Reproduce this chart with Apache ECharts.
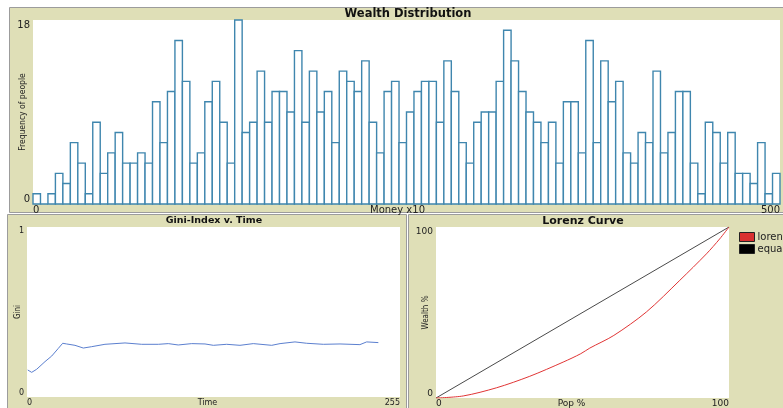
<!DOCTYPE html>
<html>
<head>
<meta charset="utf-8">
<script src="https://cdn.jsdelivr.net/npm/echarts@6/dist/echarts.min.js"></script>
<style>
html,body{margin:0;padding:0;background:#fff;}
#c{width:783px;height:408px;}
</style>
</head>
<body>
<div id="c"></div>
<script>
// ---- Wealth Distribution histogram (bin width 5, range 0..500) ----
const binWidth = 5;
const histCounts = [1,0,1,3,2,6,4,1,8,3, 5,7,4,4,5,4,10,6,11,16, 12,4,5,10,12,8,4,18,7,8,
  13,8,11,11,9,15,8,13,9,11, 6,13,12,11,14,8,5,11,12,6, 9,11,12,12,8,14,11,6,4,8,
  9,9,12,17,14,11,9,8,6,8, 4,10,10,5,16,6,14,10,12,5, 4,7,6,13,5,7,11,11,4,1,
  8,7,4,7,3,3,2,6,1,3];
const histXTicks = [0, 500];
const histYTicks = [0, 18];

// ---- Gini index vs time ----
const giniTime  = [0.5,3.2,6.6,12.3,16.9,21.4,24.4,25.3,27.1,32.8,38.5,44.2,53.3,67,78.4,89.8,96.6,103.4,112.6,121.7,127.4,136.5,145.6,154.7,167.3,173,183.2,191.2,202.6,214,227.6,232.2,240.2];
const giniValue = [0.159,0.145,0.163,0.208,0.241,0.286,0.316,0.325,0.312,0.304,0.288,0.296,0.310,0.318,0.310,0.310,0.314,0.306,0.314,0.312,0.304,0.310,0.304,0.314,0.304,0.314,0.324,0.316,0.310,0.312,0.308,0.324,0.320];
const giniXTicks = [0, 255];
const giniYTicks = [0, 1];

// ---- Lorenz curve ----
const lorenzPop    = [0,9.3,20.7,32,43.4,49.4,52.5,60.7,71.8,83.2,92.3,96.8,100];
const lorenzWealth = [0,1.2,6.0,12.7,21,25.9,29.2,36.6,50.3,68.8,84.3,93,100];
const equalPop    = [0,100];
const equalWealth = [0,100];
const lorenzTicks = [0, 100];

const beige = '#dfdfb7';
const frameStroke = '#9c9c9c';
const labelFont = 'DejaVu Sans';
const narrowFont = "'Liberation Sans Narrow', 'DejaVu Sans Condensed', 'DejaVu Sans'";

const chart = echarts.init(document.getElementById('c'), null, {renderer:'canvas'});

function frame(x,y,w,h){
  return {type:'rect', z:-100, shape:{x:x,y:y,width:w,height:h},
    style:{fill:beige, stroke:frameStroke, lineWidth:1}};
}
function white(x,y,w,h){
  return {type:'rect', z:-99, shape:{x:x,y:y,width:w,height:h}, style:{fill:'#fff'}};
}

function xAxisCfg(gi, ticks, name, nameGapRight, fs, margin){
  return {
    type:'value', gridIndex:gi, min:ticks[0], max:ticks[1], interval:ticks[1]-ticks[0],
    name:name, nameLocation:'middle', nameGap:margin, nameMoveOverlap:false,
    nameTextStyle:{fontFamily:labelFont, fontSize:fs, color:'#222', padding:[0,nameGapRight,0,0]},
    axisLine:{show:false}, axisTick:{show:false}, splitLine:{show:false},
    axisLabel:{fontFamily:labelFont, fontSize:fs, color:'#222', margin:margin,
      alignMinLabel:'left', alignMaxLabel:'right'}
  };
}
function yAxisCfg(gi, ticks, name, nameGap, fs, nfs, margin){
  return {
    type:'value', gridIndex:gi, min:ticks[0], max:ticks[1], interval:ticks[1]-ticks[0],
    name:name, nameLocation:'middle', nameGap:nameGap, nameMoveOverlap:false,
    nameTextStyle:{fontFamily:narrowFont, fontSize:nfs, color:'#222'},
    axisLine:{show:false}, axisTick:{show:false}, splitLine:{show:false},
    axisLabel:{fontFamily:labelFont, fontSize:fs, color:'#222', margin:margin,
      verticalAlignMinLabel:'bottom', verticalAlignMaxLabel:'top'}
  };
}

const option = {
  backgroundColor:'#fff',
  animation:false,
  graphic:{elements:[
    frame(9.5,7.5,780,205),
    white(33,20,747,184),
    frame(7.5,214.5,399,200),
    white(27,227,373,170),
    frame(408.5,214.5,380,200),
    white(436,227,293,171),
    {type:'text', z:10, style:{text:'Wealth Distribution', x:408, y:14, align:'center', verticalAlign:'middle',
      font:'bold 11.5px DejaVu Sans', fill:'#111'}},
    {type:'text', z:10, style:{text:'Gini-Index v. Time', x:214, y:221, align:'center', verticalAlign:'middle',
      font:'bold 9.5px DejaVu Sans', fill:'#111'}},
    {type:'text', z:10, style:{text:'Lorenz Curve', x:583, y:221, align:'center', verticalAlign:'middle',
      font:'bold 11px DejaVu Sans', fill:'#111'}}
  ]},
  grid:[
    {left:33, top:20, width:747, height:184, outerBoundsMode:'none', containLabel:false},
    {left:27, top:227, width:373, height:170, outerBoundsMode:'none', containLabel:false},
    {left:436, top:227, width:293, height:171, outerBoundsMode:'none', containLabel:false}
  ],
  xAxis:[
    xAxisCfg(0, histXTicks, 'Money x10', 18, 10, 1),
    xAxisCfg(1, giniXTicks, 'Time', 12, 8, 2),
    xAxisCfg(2, lorenzTicks, 'Pop %', 22, 9, 1)
  ],
  yAxis:[
    yAxisCfg(0, histYTicks, 'Frequency of people', 6, 10, 8.5, 3),
    yAxisCfg(1, giniYTicks, 'Gini', 5, 8, 8, 3),
    yAxisCfg(2, lorenzTicks, 'Wealth %', 6, 9, 8, 3)
  ],
  legend:{
    orient:'vertical', left:734, top:227, itemWidth:15, itemHeight:9, itemGap:2,
    icon:'rect', selectedMode:false,
    textStyle:{fontFamily:labelFont, fontSize:10, color:'#222', padding:[0,0,0,-2]},
    data:[
      {name:'lorenz', itemStyle:{color:'#d93030', borderColor:'#222', borderWidth:1}},
      {name:'equal', itemStyle:{color:'#000', borderColor:'#222', borderWidth:1}}
    ]
  },
  series:[
    {
      type:'custom', xAxisIndex:0, yAxisIndex:0,
      data: histCounts.map((c,i)=>[i*binWidth, c]),
      renderItem:function(params, api){
        const x0 = api.value(0), v = api.value(1);
        const p0 = api.coord([x0, 0]);
        const p1 = api.coord([x0+binWidth, v]);
        return {type:'rect',
          shape:{x:p0[0], y:p1[1], width:p1[0]-p0[0], height:p0[1]-p1[1]},
          style:{fill:'#fff', stroke:'#3f86ae', lineWidth:1.4}};
      }
    },
    {
      type:'line', xAxisIndex:1, yAxisIndex:1, symbol:'none',
      data: giniTime.map((t,i)=>[t, giniValue[i]]),
      lineStyle:{color:'#5b7fcf', width:1}
    },
    {
      name:'equal', type:'line', xAxisIndex:2, yAxisIndex:2, symbol:'none',
      data: equalPop.map((p,i)=>[p, equalWealth[i]]),
      lineStyle:{color:'#4a4a4a', width:1}, itemStyle:{color:'#000'}
    },
    {
      name:'lorenz', type:'line', xAxisIndex:2, yAxisIndex:2, symbol:'none', smooth:0.3,
      data: lorenzPop.map((p,i)=>[p, lorenzWealth[i]]),
      lineStyle:{color:'#e03535', width:1}, itemStyle:{color:'#d93030'}
    }
  ]
};
chart.setOption(option);
</script>
</body>
</html>
